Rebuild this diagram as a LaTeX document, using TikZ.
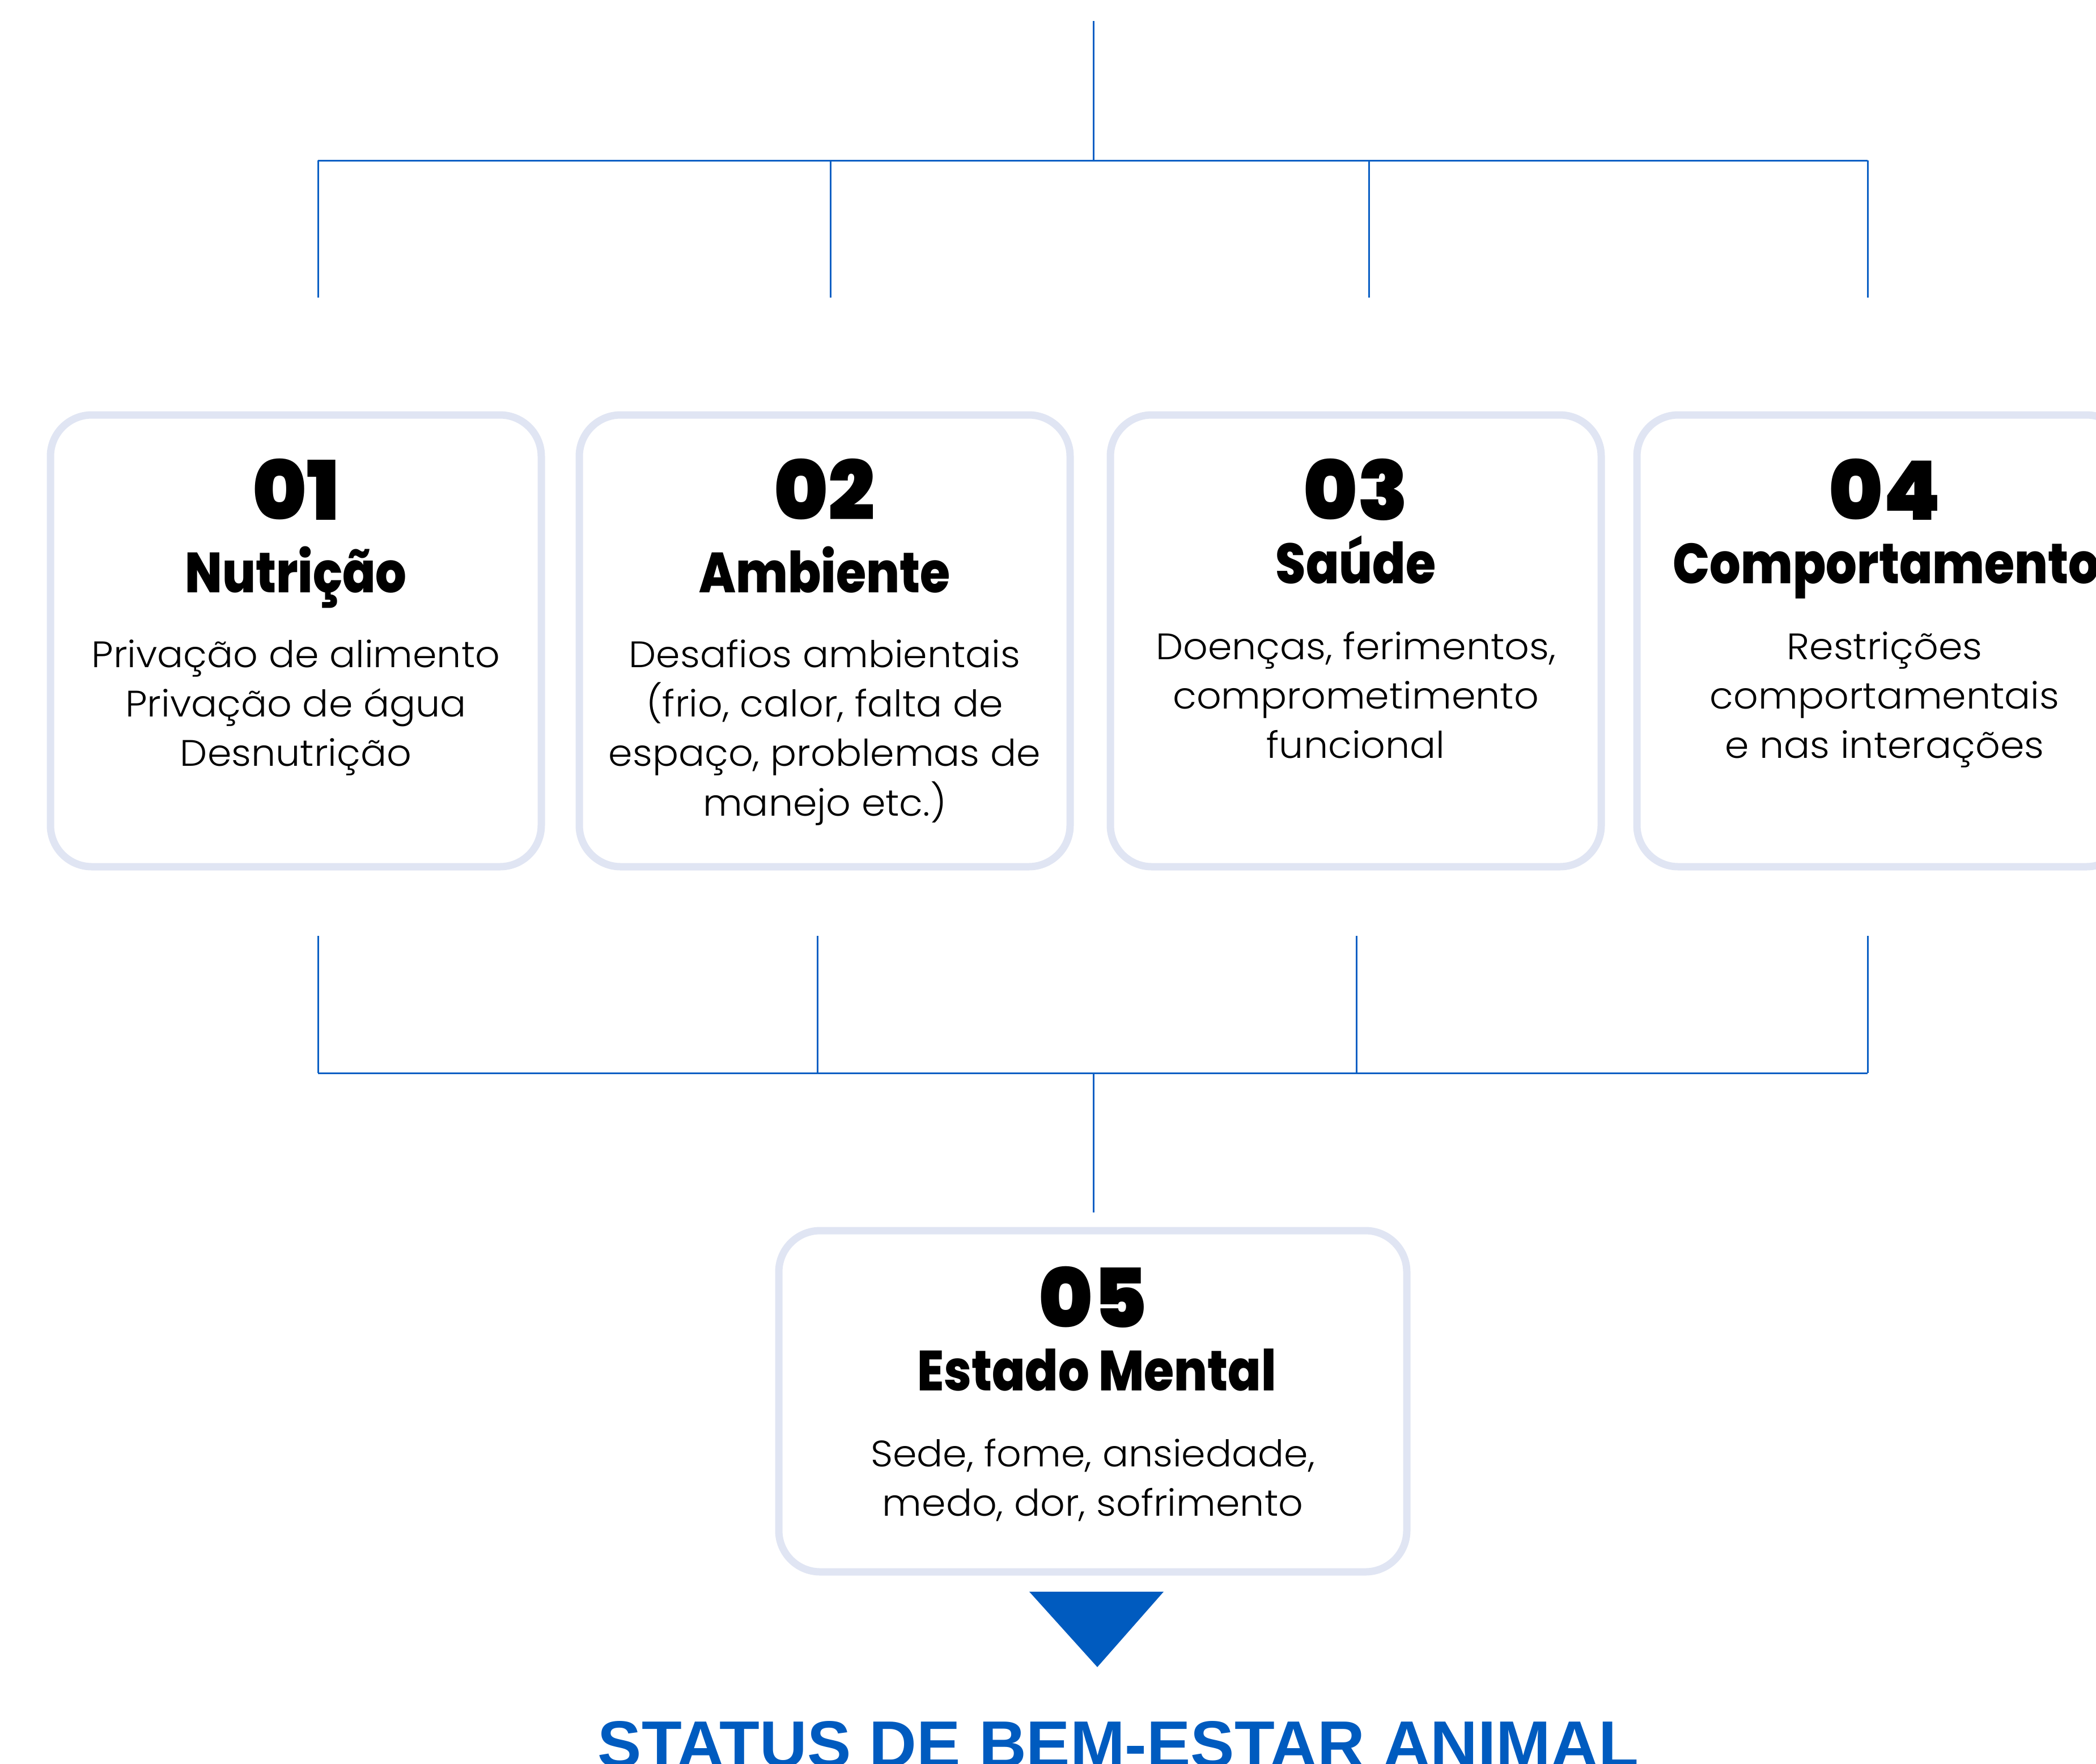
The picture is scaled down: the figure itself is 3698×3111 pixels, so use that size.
\documentclass[tikz,border=0pt]{standalone}
\usepackage{fontspec}
\newfontfamily\numf{Poppins Black}
\newfontfamily\headf{Poppins ExtraBold}[FakeStretch=0.86]
\newfontfamily\bodyf{Poppins Light}[FakeStretch=1.05]
\newfontfamily\titlef{Liberation Sans}
\definecolor{lineblue}{HTML}{0A5FC4}
\definecolor{boxline}{HTML}{E0E5F3}
\definecolor{triblue}{HTML}{005BBF}
\tikzset{
  card/.style={draw=boxline, line width=13pt, rounded corners=73pt, fill=white, inner sep=0pt},
  conn/.style={draw=lineblue, line width=3pt},
  numtxt/.style={anchor=base, inner sep=0pt, font=\numf\fontsize{145}{145}\selectfont},
  headtxt/.style={anchor=base, inner sep=0pt, font=\headf\fontsize{100}{100}\selectfont},
  bodytxt/.style={anchor=base, inner sep=0pt, font=\bodyf\fontsize{65}{65}\selectfont},
  titletxt/.style={anchor=base, inner sep=0pt, text=triblue, font=\titlef\bfseries\fontsize{116}{116}\selectfont}
}
\begin{document}
\begin{tikzpicture}[x=1pt,y=-1pt]
\useasboundingbox (0,0) rectangle (3698,3111);
% cards
\node[card, minimum width=866pt, minimum height=797pt] (c1) at (522,1130.5) {};
\node[card, minimum width=866pt, minimum height=797pt] (c2) at (1455,1130.5) {};
\node[card, minimum width=866pt, minimum height=797pt] (c3) at (2392,1130.5) {};
\node[card, minimum width=866pt, minimum height=797pt] (c4) at (3321,1130.5) {};
\node[card, minimum width=1108pt, minimum height=602pt] (c5) at (1928,2472) {};
% top connectors
\coordinate (t0) at (1929,37);
\coordinate (tj) at (1929,283);
\coordinate (tl) at (561,283);
\coordinate (tr) at (3295,283);
\coordinate (ta) at (561,283);   \coordinate (tae) at (561,525);
\coordinate (tb) at (1465,283);  \coordinate (tbe) at (1465,525);
\coordinate (tc) at (2415,283);  \coordinate (tce) at (2415,525);
\coordinate (td) at (3295,283);  \coordinate (tde) at (3295,525);
\draw[conn] (t0) -- (tj);
\draw[conn] (tl) -- (tr);
\draw[conn] (ta) -- (tae);
\draw[conn] (tb) -- (tbe);
\draw[conn] (tc) -- (tce);
\draw[conn] (td) -- (tde);
% bottom connectors
\coordinate (ba) at (561,1651);  \coordinate (bae) at (561,1893);
\coordinate (bb) at (1442,1651); \coordinate (bbe) at (1442,1893);
\coordinate (bc) at (2393,1651); \coordinate (bce) at (2393,1893);
\coordinate (bd) at (3295,1651); \coordinate (bde) at (3295,1893);
\coordinate (bj) at (1929,1893);
\coordinate (b5) at (1929,2139);
\draw[conn] (ba) -- (bae);
\draw[conn] (bb) -- (bbe);
\draw[conn] (bc) -- (bce);
\draw[conn] (bd) -- (bde);
\draw[conn] (bae) -- (bde);
\draw[conn] (bj) -- (b5);
% triangle
\coordinate (tri1) at (1816,2808);
\coordinate (tri2) at (2053,2808);
\coordinate (tri3) at (1936,2941);
\fill[triblue] (tri1) -- (tri2) -- (tri3) -- cycle;
% box 1
\node[numtxt] (n1) at (522,917) {01};
\node[headtxt] (h1) at (522,1045) {Nutrição};
\node[bodytxt] (b1a) at (522,1177) {Privação de alimento};
\node[bodytxt] (b1b) at (522,1264) {Privação de água};
\node[bodytxt] (b1c) at (522,1351) {Desnutrição};
% box 2
\node[numtxt] (n2) at (1455,917) {02};
\node[headtxt] (h2) at (1455,1045) {Ambiente};
\node[bodytxt] (b2a) at (1455,1177) {Desafios ambientais};
\node[bodytxt] (b2b) at (1455,1264) {(frio, calor, falta de};
\node[bodytxt] (b2c) at (1455,1351) {espaço, problemas de};
\node[bodytxt] (b2d) at (1455,1439) {manejo etc.)};
% box 3
\node[numtxt] (n3) at (2392,917) {03};
\node[headtxt] (h3) at (2392,1029) {Saúde};
\node[bodytxt] (b3a) at (2392,1163) {Doenças, ferimentos,};
\node[bodytxt] (b3b) at (2392,1250) {comprometimento};
\node[bodytxt] (b3c) at (2392,1337) {funcional};
% box 4
\node[numtxt] (n4) at (3325,917) {04};
\node[headtxt] (h4) at (3328,1029) {Comportamento};
\node[bodytxt] (b4a) at (3325,1163) {Restrições};
\node[bodytxt] (b4b) at (3325,1250) {comportamentais};
\node[bodytxt] (b4c) at (3325,1337) {e nas interações};
% box 5
\node[numtxt] (n5) at (1928,2342) {05};
\node[headtxt] (h5) at (1935,2453) {Estado Mental};
\node[bodytxt] (b5a) at (1928,2587) {Sede, fome, ansiedade,};
\node[bodytxt] (b5b) at (1928,2674) {medo, dor, sofrimento};
% title
\node[titletxt] (title) at (1973,3117) {STATUS DE BEM-ESTAR ANIMAL};
\end{tikzpicture}
\end{document}
